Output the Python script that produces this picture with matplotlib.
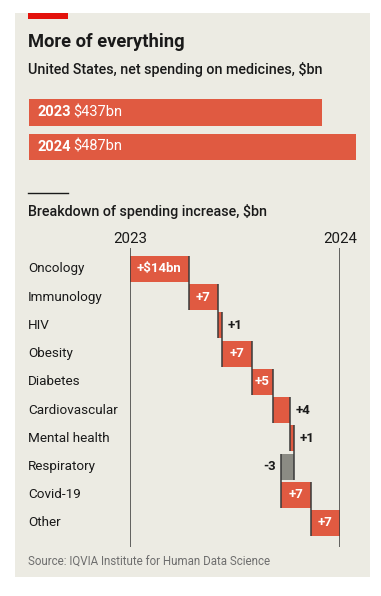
import matplotlib
matplotlib.use("Agg")
import matplotlib.pyplot as plt
from matplotlib.patches import Rectangle
import matplotlib.transforms as mtransforms

# ---------------- data ----------------
years = ["2023", "2024"]
totals = [437, 487]
total_labels = ["$437bn", "$487bn"]

categories = ["Oncology", "Immunology", "HIV", "Obesity", "Diabetes",
              "Cardiovascular", "Mental health", "Respiratory", "Covid-19", "Other"]
changes = [14, 7, 1, 7, 5, 4, 1, -3, 7, 7]
change_labels = ["+$14bn", "+7", "+1", "+7", "+5", "+4", "+1", "-3", "+7", "+7"]
label_inside = [True, True, False, True, True, False, False, False, True, True]

# ---------------- style ----------------
W, H = 381, 596
BG = "#ecebe3"
RED = "#e05a41"
GREY = "#8b8b84"
DARK = "#1a1a1a"
LINE = "#3a3a3a"
FONT = "Roboto"
plt.rcParams["font.family"] = [FONT, "DejaVu Sans"]

fig = plt.figure(figsize=(W / 100, H / 100), dpi=100)
fig.patch.set_facecolor("white")


def fx(px):
    return px / W


def fy(py):
    return 1 - py / H


def add_axes_px(left, top, width, height):
    ax = fig.add_axes([fx(left), fy(top + height), width / W, height / H])
    ax.set_zorder(5)
    return ax


# panel background
fig.patches.append(Rectangle((fx(15), fy(577)), (370 - 15) / W, (577 - 13) / H,
                             transform=fig.transFigure, facecolor=BG,
                             edgecolor="none", zorder=-10))
# red marker
fig.patches.append(Rectangle((fx(28), fy(18.5)), 40 / W, 5.5 / H,
                             transform=fig.transFigure, facecolor="#e3120b",
                             edgecolor="none", zorder=-5))
# small black rule
fig.lines.append(plt.Line2D([fx(28), fx(68)], [fy(192.5), fy(192.5)],
                            transform=fig.transFigure, color=DARK, lw=1.0))

fig.text(fx(28), fy(47), "More of everything", fontsize=13.2, fontweight="bold",
         color=DARK, va="baseline", ha="left")
fig.text(fx(28), fy(74), "United States, net spending on medicines, $bn",
         fontsize=10.3, fontweight="medium", color=DARK, va="baseline", ha="left")
fig.text(fx(28), fy(216), "Breakdown of spending increase, $bn",
         fontsize=10.3, fontweight="medium", color=DARK, va="baseline", ha="left")
fig.text(fx(28), fy(566), "Source: IQVIA Institute for Human Data Science",
         fontsize=8.3, color="#6e6e6e", va="baseline", ha="left")

# ---------------- top bars ----------------
px_per_bn = 293 / 437
row_h = 34.5
ax1 = add_axes_px(29, 112.5 - row_h / 2, 341, 2 * row_h)
ax1.set_xlim(0, 341 / px_per_bn)
ax1.set_ylim(1.5, -0.5)
ax1.axis("off")
ax1.barh(range(len(years)), totals, height=0.78, color=RED, left=0)
for i, (yr, lab) in enumerate(zip(years, total_labels)):
    tr = mtransforms.offset_copy(ax1.transData, fig=fig, x=9 * 72 / 100, y=0, units="points")
    t1 = ax1.text(0, i, yr, transform=tr, color="white", fontsize=10.5,
                  fontweight="bold", va="center", ha="left")
    ax1.annotate(lab.replace("$", r"\$"), xy=(1, 0.5), xycoords=t1, xytext=(1.5, 0),
                 textcoords="offset points", color="white", fontsize=10.5,
                 va="center", ha="left")

# ---------------- waterfall ----------------
start_val, end_val = totals
wrow = 28.22
ax2 = add_axes_px(130, 269 - wrow, 210, 11 * wrow)
ax2.set_xlim(start_val, end_val)
ax2.set_ylim(10, -1)
ax2.axis("off")

bh = 0.92
lefts = []
cum = start_val
for c in changes:
    lefts.append(cum)
    cum += c
ends = [l + c for l, c in zip(lefts, changes)]

colors = [RED if c > 0 else GREY for c in changes]
ax2.barh(range(len(categories)), changes, left=lefts, height=bh, color=colors,
         edgecolor="none", zorder=2)

# year lines
ax2.vlines([start_val, end_val], -0.75, 9.85, color=LINE, lw=1.1, zorder=3)
ax2.text(start_val, -0.93, years[0], ha="center", va="baseline", fontsize=10.8, color=DARK,
         clip_on=False)
ax2.text(end_val, -0.93, years[1], ha="center", va="baseline", fontsize=10.8, color=DARK,
         clip_on=False)

# connectors
for i in range(len(categories) - 1):
    ax2.vlines(ends[i], i - bh / 2, i + 1 + bh / 2, color=LINE, lw=1.1, zorder=3)

# category labels
blend = mtransforms.blended_transform_factory(fig.transFigure, ax2.transData)
for i, cat in enumerate(categories):
    fig.text(fx(28), i, cat, transform=blend, fontsize=9.7, color=DARK,
             va="center", ha="left")

# value labels
for i, (c, lab, inside) in enumerate(zip(changes, change_labels, label_inside)):
    txt = lab.replace("$", r"\$")
    if inside:
        ax2.text(lefts[i] + c / 2, i, txt, ha="center", va="center", color="white",
                 fontsize=9.5, fontweight="semibold", zorder=4)
    elif c > 0:
        ax2.annotate(txt, xy=(max(lefts[i], ends[i]), i), xytext=(4, 0),
                     textcoords="offset points", ha="left", va="center",
                     color=DARK, fontsize=9.5, fontweight="semibold")
    else:
        ax2.annotate(txt, xy=(min(lefts[i], ends[i]), i), xytext=(-4, 0),
                     textcoords="offset points", ha="right", va="center",
                     color=DARK, fontsize=9.5, fontweight="semibold")

fig.savefig("out.png", dpi=100, facecolor=fig.get_facecolor())
